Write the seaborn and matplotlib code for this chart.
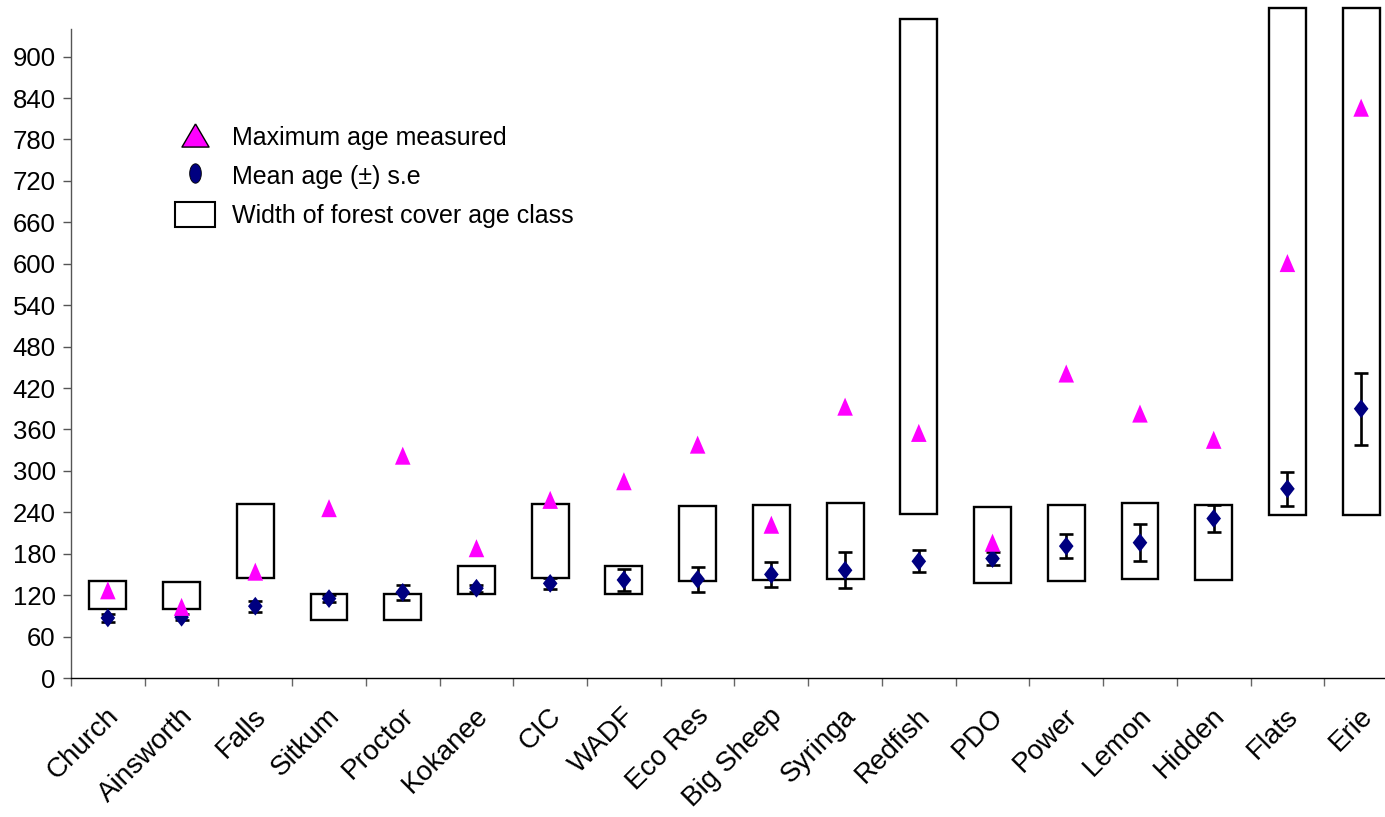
import numpy as np
import matplotlib
matplotlib.use("Agg")
import matplotlib.pyplot as plt
from matplotlib.lines import Line2D
from matplotlib.patches import Patch
from matplotlib.transforms import ScaledTranslation
import seaborn as sns

# Stand sites along the x axis
sites = ["Church", "Ainsworth", "Falls", "Sitkum", "Proctor", "Kokanee", "CIC",
         "WADF", "Eco Res", "Big Sheep", "Syringa", "Redfish", "PDO", "Power",
         "Lemon", "Hidden", "Flats", "Erie"]

# Forest cover age class limits (years)
class_low = [100, 100, 145, 84, 84, 122, 145, 122, 141, 142, 144, 237, 138, 141,
             143, 142, 236, 236]
class_high = [141, 139, 252, 122, 122, 162, 252, 162, 249, 251, 253, 955, 247, 250,
              253, 251, 971, 971]

# Oldest tree measured at each site (years)
max_age = [127, 103, 154, 246, 322, 188, 258, 285, 338, 222, 393, 355, 196, 441,
           383, 345, 601, 826]

# Mean stand age and its standard error (years)
mean_age = [87, 88, 104, 115, 124, 130, 137, 142, 143, 150, 156, 169, 173, 191,
            196, 231, 274, 390]
mean_se = [6, 4, 8, 5, 11, 5, 8, 16, 18, 18, 26, 16, 9, 17, 27, 20, 25, 52]

y_ticks = list(range(0, 901, 60))

MAGENTA = "#FF00FF"
NAVY = "#000080"

sns.set_style("white")
plt.rcParams["font.family"] = ["Liberation Sans", "DejaVu Sans"]
plt.rcParams["text.color"] = "black"
NARROW = ["Liberation Sans Narrow", "Liberation Sans", "DejaVu Sans"]

W, H = 1385, 817
fig = plt.figure(figsize=(W / 100, H / 100), dpi=100)
ax = fig.add_axes([71 / W, 139 / H, 1327 / W, 649 / H])

pos = np.arange(len(sites))
low = np.array(class_low, dtype=float)
high = np.array(class_high, dtype=float)

# age-class boxes
ax.bar(pos, high - low, bottom=low, width=0.5, facecolor="white",
       edgecolor="black", linewidth=1.7, clip_on=False, zorder=1)

# mean +/- s.e.
ax.errorbar(pos, mean_age, yerr=mean_se, fmt="none", ecolor="black",
            elinewidth=1.9, capsize=5.2, capthick=1.9, zorder=2)

diamond = [(0, 1), (0.78, 0), (0, -1), (-0.78, 0), (0, 1)]
triangle = [(0, 1), (0.86, -1), (-0.86, -1), (0, 1)]

sns.scatterplot(x=pos, y=mean_age, marker=diamond, s=13.5 ** 2, color=NAVY,
                edgecolor="none", linewidth=0, zorder=3, ax=ax, clip_on=False)
sns.scatterplot(x=pos, y=max_age, marker=triangle, s=13 ** 2, color=MAGENTA,
                edgecolor="none", linewidth=0, zorder=4, ax=ax, clip_on=False)

ax.set_xlim(-0.5, len(sites) - 0.5)
ax.set_ylim(0, 940)

# y axis
ax.set_yticks(y_ticks)
ax.set_yticklabels([str(v) for v in y_ticks], family=NARROW, fontsize=18.5)
ax.tick_params(axis="y", which="major", direction="out", length=5.5, width=1.0,
               color="#555555", pad=5.5, labelcolor="black", left=True)

# x axis: tick marks between sites, names under each site
ax.set_xticks(np.arange(-0.5, len(sites)), labels=[""] * (len(sites) + 1))
ax.set_xticks(pos, labels=sites, minor=True)
ax.tick_params(axis="x", which="major", direction="out", length=6, width=1.0,
               color="#666666", bottom=True)
ax.tick_params(axis="x", which="minor", length=0, pad=18, labelsize=20,
               labelcolor="black")
shift = ScaledTranslation(-2 / 100, 0, fig.dpi_scale_trans)
for lbl in ax.get_xticklabels(minor=True):
    lbl.set_rotation(45)
    lbl.set_ha("right")
    lbl.set_va("top")
    lbl.set_rotation_mode("anchor")
    lbl.set_transform(lbl.get_transform() + shift)

for side in ("top", "right"):
    ax.spines[side].set_visible(False)
ax.spines["left"].set_color("#555555")
ax.spines["left"].set_linewidth(1.0)
ax.spines["bottom"].set_color("black")
ax.spines["bottom"].set_linewidth(1.0)
ax.grid(False)

# legend
ellipse = [(0.6 * np.cos(t), np.sin(t)) for t in np.linspace(0, 2 * np.pi, 40)]
legend_triangle = [(0, 1), (1.17, -1), (-1.17, -1), (0, 1)]
handles = [
    Line2D([], [], linestyle="none", marker=legend_triangle, markersize=19.5,
           markerfacecolor=MAGENTA, markeredgecolor="black", markeredgewidth=1.0),
    Line2D([], [], linestyle="none", marker=ellipse, markersize=14,
           markerfacecolor=NAVY, markeredgecolor="black", markeredgewidth=0.6),
    Patch(facecolor="white", edgecolor="black", linewidth=1.5),
]
labels = ["Maximum age measured", "Mean age (\u00b1) s.e",
          "Width of forest cover age class"]
fig.legend(handles, labels, loc="upper left",
           bbox_to_anchor=(175 / W, 1 - 124 / H), frameon=False, fontsize=18,
           handlelength=1.6, handleheight=1.2, handletextpad=0.68,
           labelspacing=0.5, borderpad=0, borderaxespad=0, labelcolor="black")

fig.savefig("out.png", dpi=100)
